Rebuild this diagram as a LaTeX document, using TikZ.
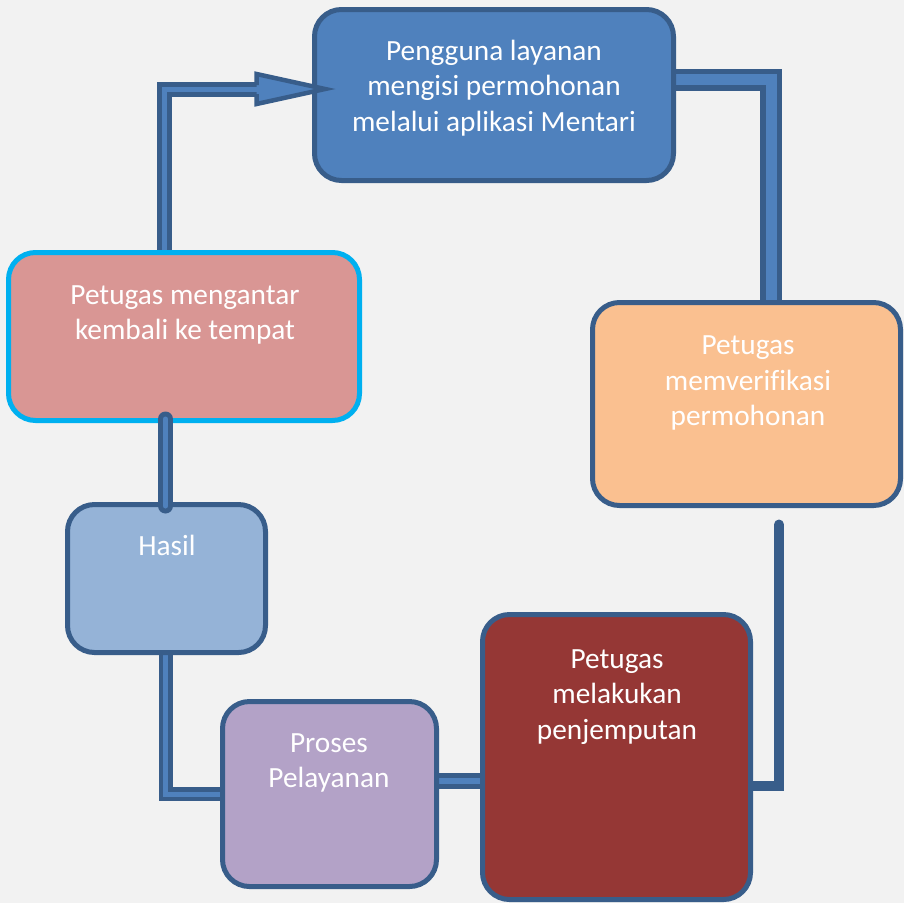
\documentclass[tikz,border=0pt]{standalone}
\usepackage{fontspec}
\setmainfont{Carlito}[Ligatures=NoCommon]
\usetikzlibrary{calc,backgrounds}
\definecolor{latar}{HTML}{F2F2F2}
\definecolor{tepi}{HTML}{385D8A}
\definecolor{biru}{HTML}{4F81BD}
\definecolor{jingga}{HTML}{FAC090}
\definecolor{merahmuda}{HTML}{D99694}
\definecolor{birumuda}{HTML}{00B0F0}
\definecolor{birupucat}{HTML}{95B3D7}
\definecolor{ungu}{HTML}{B3A2C7}
\definecolor{merahtua}{HTML}{953735}
\begin{document}
\begin{tikzpicture}[x=1pt,y=-1pt,
        box/.style={draw=tepi,line width=5pt,rounded corners=27pt,inner sep=0pt},
        teks/.style={text=white,align=center,font=\fontsize{29.3}{35.5}\selectfont},
        pipa/.style={draw=tepi,line width=5pt,double=biru,double distance=5pt}]
        \useasboundingbox (0,0) rectangle (904,903);
        \node[box,fill=biru,minimum width=359pt,minimum height=171pt] (isi) at (494,95) {};
        \node[box,fill=jingga,minimum width=308pt,minimum height=203pt] (verif) at (746.5,404) {};
        \node[box,draw=birumuda,fill=merahmuda,minimum width=351pt,minimum height=168pt] (antar) at (184,336.5) {};
        \node[box,fill=birupucat,minimum width=198pt,minimum height=148pt] (hasil) at (166.5,578.5) {};
        \node[box,fill=ungu,minimum width=214pt,minimum height=185pt] (proses) at (329.5,794) {};
        \node[box,fill=merahtua,minimum width=268pt,minimum height=285pt] (jemput) at (616.5,757) {};
        \node[teks] (tisi) at (494,88) {Pengguna layanan\\mengisi permohonan\\melalui aplikasi Mentari};
        \node[teks] (tverif) at (748,383) {Petugas\\memverifikasi\\permohonan};
        \node[teks] (tantar) at (185,315) {Petugas mengantar\\kembali ke tempat};
        \node[teks] (thasil) at (167,545) {Hasil};
        \node[teks] (tproses) at (329,763) {Proses\\Pelayanan};
        \node[teks] (tjemput) at (617,697) {Petugas\\melakukan\\penjemputan};
        \begin{scope}[on background layer]
        \fill[latar] (0,0) rectangle (904,903);
        \draw[pipa] ($(antar.north)+(-19.5,0)$) |- ($(isi.west)+(-55.5,-5.5)$);
        \draw[pipa,line width=5.5pt,double distance=11pt] ($(isi.east)+(-5,-15.5)$) -| ($(verif.north)+(24.5,0)$);
        \draw[draw=tepi,line width=10pt,line cap=round] ($(verif.south)+(32.5,16.5)$) |- ($(jemput.east)+(0,29)$);
        \draw[pipa,line width=4.5pt] ($(hasil.south)+(-1,0)$) |- (proses.west);
        \draw[pipa,double distance=6pt] ($(proses.east)+(-4,-13)$) -- ($(jemput.west)+(2,24)$);
        \end{scope}
        \draw[pipa,line cap=round] ($(antar.south)+(-18.5,-4)$) -- ($(hasil.north)+(-1,4)$);
        \fill[biru] ($(isi.west)+(-55.5,-12.5)$) -- ($(isi.west)+(-55.5,-21)$) -- ($(isi.west)+(13,-6)$) -- ($(isi.west)+(-55.5,9)$) -- ($(isi.west)+(-55.5,1.5)$) -- cycle;
        \draw[tepi,line width=4.5pt,line join=miter] ($(isi.west)+(-55.5,-10)$) -- ($(isi.west)+(-55.5,-21)$) -- ($(isi.west)+(13,-6)$) -- ($(isi.west)+(-55.5,9)$) -- ($(isi.west)+(-55.5,-1)$);
    \end{tikzpicture}
\end{document}
